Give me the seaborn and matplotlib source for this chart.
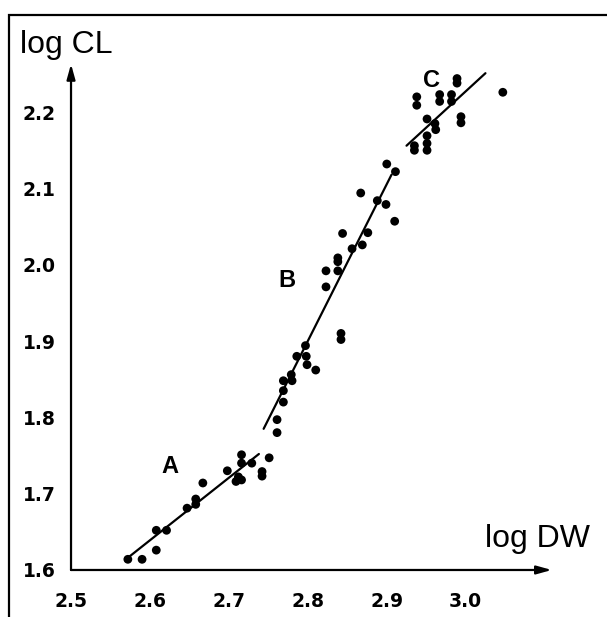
import pandas as pd
import matplotlib.pyplot as plt
import matplotlib.patches as patches
import seaborn as sns

# -------------------------
# Data
# -------------------------
a_dw = [2.572, 2.590, 2.608, 2.608, 2.621, 2.647, 2.658, 2.658, 2.667, 2.698,
        2.709, 2.716, 2.712, 2.716, 2.716, 2.729, 2.742, 2.742, 2.751]
a_cl = [1.614, 1.614, 1.626, 1.652, 1.652, 1.681, 1.693, 1.686, 1.714, 1.730,
        1.716, 1.718, 1.722, 1.751, 1.740, 1.740, 1.729, 1.723, 1.747]

b_dw = [2.761, 2.761, 2.769, 2.769, 2.769, 2.780, 2.779, 2.799, 2.810, 2.786,
        2.798, 2.797, 2.842, 2.842, 2.823, 2.823, 2.838, 2.838, 2.838, 2.856,
        2.869, 2.844, 2.876, 2.867, 2.888, 2.899, 2.910, 2.900, 2.911]
b_cl = [1.780, 1.797, 1.820, 1.835, 1.848, 1.848, 1.856, 1.869, 1.862, 1.880,
        1.880, 1.894, 1.910, 1.902, 1.971, 1.992, 1.992, 2.009, 2.004, 2.021,
        2.026, 2.041, 2.042, 2.094, 2.084, 2.079, 2.057, 2.132, 2.122]

c_dw = [2.989, 2.989, 2.938, 2.938, 2.967, 2.967, 2.982, 2.982, 2.951, 2.961,
        2.962, 2.994, 2.994, 2.951, 2.951, 2.951, 2.935, 2.935, 3.047]
c_cl = [2.244, 2.238, 2.220, 2.209, 2.223, 2.214, 2.223, 2.214, 2.191, 2.185,
        2.177, 2.194, 2.186, 2.169, 2.159, 2.150, 2.156, 2.150, 2.226]

# fitted segments (end points)
seg_names = ["A", "A", "B", "B", "C", "C"]
seg_dw = [2.572, 2.738, 2.744, 2.906, 2.925, 3.025]
seg_cl = [1.616, 1.752, 1.785, 2.118, 2.156, 2.251]

# group labels
lab_names = ["A", "B", "C"]
lab_dw = [2.625, 2.773, 2.957]
lab_cl = [1.735, 1.979, 2.242]

x_ticks = [2.5, 2.6, 2.7, 2.8, 2.9, 3.0]
x_labels = ["2.5", "2.6", "2.7", "2.8", "2.9", "3.0"]
y_ticks = [1.6, 1.7, 1.8, 1.9, 2.0, 2.1, 2.2]
y_labels = ["1.6", "1.7", "1.8", "1.9", "2.0", "2.1", "2.2"]

pts = pd.DataFrame({
    "dw": a_dw + b_dw + c_dw,
    "cl": a_cl + b_cl + c_cl,
})
segs = pd.DataFrame({"seg": seg_names, "dw": seg_dw, "cl": seg_cl})

# -------------------------
# Configuration
# -------------------------
sns.set_style("white")
plt.rcParams["font.family"] = ["Liberation Sans", "DejaVu Sans"]
plt.rcParams["text.color"] = "black"
plt.rcParams["xtick.color"] = "black"
plt.rcParams["ytick.color"] = "black"
plt.rcParams["axes.labelcolor"] = "black"

fig = plt.figure(figsize=(6.07, 6.17), dpi=100)
ax = fig.add_axes([0.117, 0.0762, 0.792, 0.820])

sns.scatterplot(data=pts, x="dw", y="cl", color="black", s=40,
                edgecolor="none", ax=ax, zorder=3)
for name, grp in segs.groupby("seg"):
    sns.lineplot(data=grp, x="dw", y="cl", color="black", lw=1.6,
                 estimator=None, sort=False, ax=ax)

for name, xx, yy in zip(lab_names, lab_dw, lab_cl):
    ax.text(xx, yy, name, fontsize=17, fontweight="bold",
            ha="center", va="center", color="black")

ax.set_xlim(2.5, 3.109)
ax.set_ylim(1.6, 2.263)
ax.set_xticks(x_ticks)
ax.set_xticklabels(x_labels, fontsize=13.5, fontweight="bold",
                   family="DejaVu Sans", color="black")
ax.set_yticks(y_ticks)
ax.set_yticklabels(y_labels, fontsize=13.5, fontweight="bold",
                   family="DejaVu Sans", color="black")
ax.tick_params(axis="x", direction="in", length=8, width=1.3, pad=16,
               colors="black")
ax.tick_params(axis="y", direction="in", length=7, width=1.3, pad=11,
               colors="black")
ax.set_xlabel("")
ax.set_ylabel("")

for sp in ax.spines.values():
    sp.set_visible(False)

# axes with arrow heads
arrow = dict(arrowstyle="-|>,head_length=0.9,head_width=0.25",
             color="black", lw=1.6, shrinkA=0, shrinkB=0)
ax.annotate("", xy=(1, 0), xytext=(0, 0), xycoords="axes fraction",
            arrowprops=arrow)
ax.annotate("", xy=(0, 1), xytext=(0, 0), xycoords="axes fraction",
            arrowprops=arrow)

fig.text(20 / 607, 1 - 45 / 617, "log CL", fontsize=23, va="center",
         ha="left", color="black")
fig.text(485 / 607, 1 - 547 / 617, "log DW", fontsize=23, va="baseline",
         ha="left", color="black")

# outer frame of the scanned figure
frame = patches.Rectangle((9 / 607, -0.1), 1.2, 1 - 15 / 617 + 0.1,
                          transform=fig.transFigure, fill=False,
                          edgecolor="black", lw=1.6, clip_on=False)
fig.patches.append(frame)

plt.savefig("out.png", dpi=100)
plt.close()
